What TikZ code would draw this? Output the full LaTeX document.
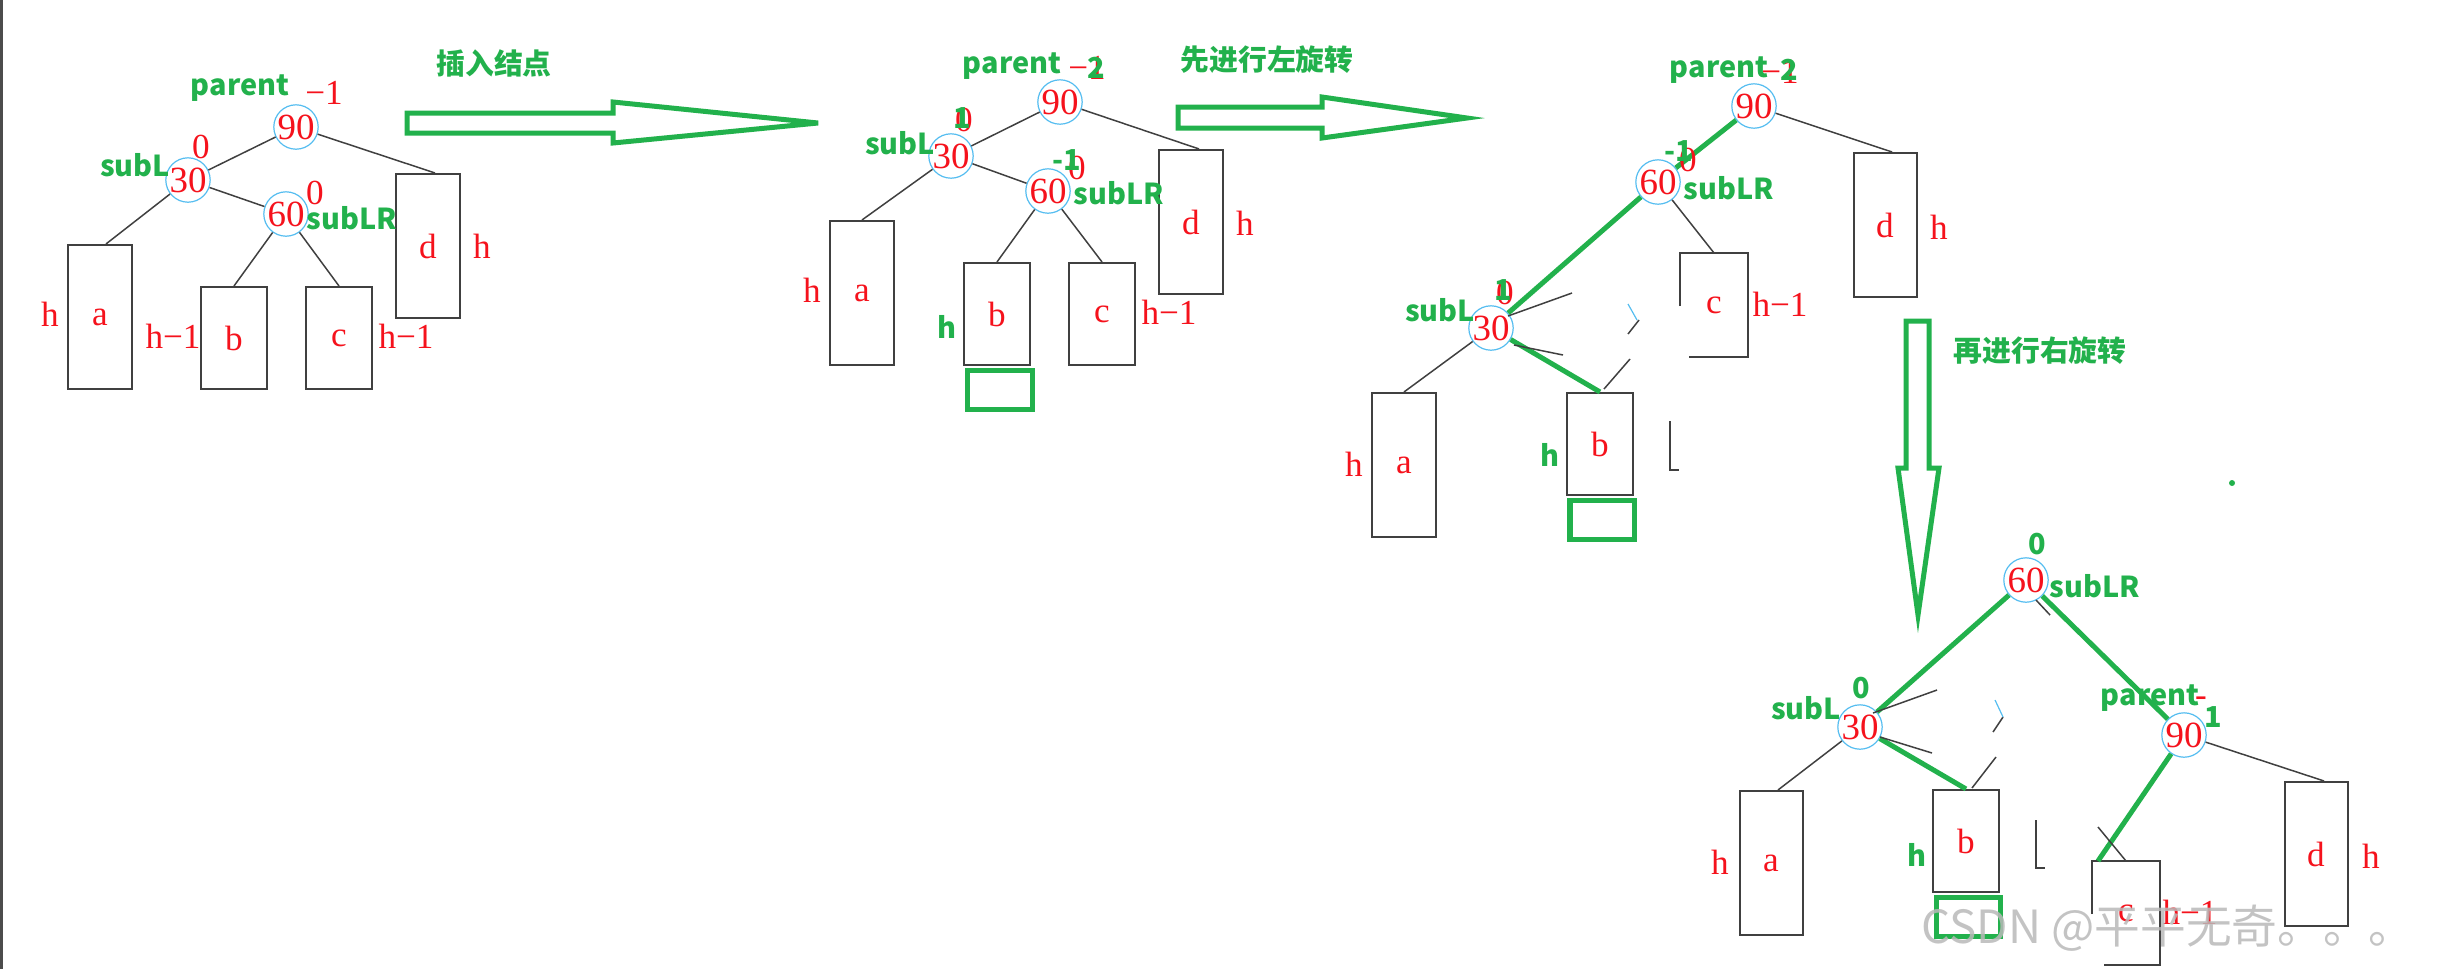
\documentclass[tikz,border=0pt]{standalone}
\usepackage{fontspec}
\setmainfont{Liberation Serif}
\newfontfamily\cnfont{Noto Sans CJK SC}
\definecolor{paintgreen}{HTML}{22B14C}
\definecolor{ringblue}{HTML}{55BDF0}
\definecolor{markred}{HTML}{F5121C}
\definecolor{boxgray}{HTML}{404040}
\tikzset{
	key/.style={circle, draw=ringblue, line width=0.012cm, minimum size=0.41cm, inner sep=0pt, text=markred, font=\fontsize{10.5}{11}\selectfont},
	tallbox/.style={draw=boxgray, line width=0.02cm, minimum width=0.63cm, minimum height=1.44cm, inner sep=0pt, text=markred, font=\fontsize{10}{11}\selectfont},
	shortbox/.style={tallbox, minimum width=0.66cm, minimum height=1.02cm},
	newbox/.style={draw=paintgreen, line width=0.05cm, minimum width=0.64cm, minimum height=0.39cm, inner sep=0pt},
	tag/.style={text=markred, inner sep=0pt, font=\fontsize{10}{11}\selectfont},
	gtag/.style={text=paintgreen, inner sep=0pt, font=\cnfont\bfseries\fontsize{8.2}{9}\selectfont},
	link/.style={draw=black!75, line width=0.015cm},
	hot/.style={draw=paintgreen, line width=0.05cm},
	hollow/.style={draw=paintgreen, line width=0.05cm, line join=miter},
	scrap/.style={draw=boxgray, line width=0.02cm},
}
\begin{document}
\begin{tikzpicture}[x=0.01cm, y=-0.01cm]
\useasboundingbox (0,0) rectangle (2442,969);
\draw[line width=0.03cm, black!70] (1.5,0) -- (1.5,969);

% tree 1: after the insert
\node[key] (p1) at (296,127) {90};
\node[key] (l1) at (188,180) {30};
\node[key] (lr1) at (286,214) {60};
\node[tallbox] (a1) at (100,317) {a};
\node[shortbox] (b1) at (234,338) {b};
\node[shortbox] (c1) at (339,338) {c};
\node[tallbox] (d1) at (428,246) {d};
\draw[link] (p1) -- (l1);
\draw[link] (p1) -- ([xshift=0.07cm]d1.north);
\draw[link] (l1) -- ([xshift=0.06cm]a1.north);
\draw[link] (l1) -- (lr1);
\draw[link] (lr1) -- (b1.north);
\draw[link] (lr1) -- (c1.north);
\node[gtag] (pn1) at (240,88) {parent};
\node[gtag] (sl1) at (135,165) {subL};
\node[gtag] (slr1) at (352,218) {subLR};
\node[tag] (bp1) at (324,93) {−1};
\node[tag] (bl1) at (201,147) {0};
\node[tag] (blr1) at (315,193) {0};
\node[tag] (ha1) at (50,314) {h};
\node[tag] (hb1) at (173,336) {h−1};
\node[tag] (hc1) at (406,336) {h−1};
\node[tag] (hd1) at (482,246) {h};

\node[gtag] (t1) at (494,63) {插入结点};
\draw[hollow] (407,113) -- (613,113) -- (613,102) -- (818,123) -- (613,143) -- (613,133) -- (407,133) -- cycle;

% tree 2: b got one level deeper
\node[key] (p2) at (1060,102) {90};
\node[key] (l2) at (951,156) {30};
\node[key] (lr2) at (1048,191) {60};
\node[tallbox] (a2) at (862,293) {a};
\node[shortbox] (b2) at (997,314) {b};
\node[shortbox] (c2) at (1102,314) {c};
\node[tallbox] (d2) at (1191,222) {d};
\node[newbox] (n2) at (1000,390) {};
\draw[link] (p2) -- (l2);
\draw[link] (p2) -- ([xshift=0.08cm]d2.north);
\draw[link] (l2) -- (a2.north);
\draw[link] (l2) -- (lr2);
\draw[link] (lr2) -- (b2.north);
\draw[link] (lr2) -- (c2.north);
\node[gtag] (pn2) at (1012,66) {parent};
\node[gtag] (sl2) at (900,143) {subL};
\node[gtag] (slr2) at (1119,193) {subLR};
\node[gtag] (hb2) at (947,327) {h};
\node[tag] (bp2) at (1087,68) {−1};
\node[gtag] (bp2n) at (1096,68) {2};
\node[tag] (bl2) at (964,120) {0};
\node[gtag] (bl2n) at (962,118) {1};
\node[tag] (blr2) at (1077,168) {0};
\node[gtag] (blr2n) at (1067,160) {-1};
\node[tag] (ha2) at (812,290) {h};
\node[tag] (hc2) at (1169,312) {h−1};
\node[tag] (hd2) at (1245,223) {h};

\node[gtag] (t2) at (1267,60) {先进行左旋转};
\draw[hollow] (1178,107) -- (1322,107) -- (1322,97) -- (1467,118) -- (1322,138) -- (1322,128) -- (1178,128) -- cycle;

% tree 3: left rotation at 30
\node[key] (p3) at (1754,106) {90};
\node[key] (lr3) at (1658,182) {60};
\node[key] (l3) at (1491,328) {30};
\node[tallbox] (a3) at (1404,465) {a};
\node[shortbox] (b3) at (1600,444) {b};
\node[shortbox, draw=none] (c3) at (1714,305) {c};
\node[tallbox] (d3) at (1885,225) {d};
\node[newbox] (n3) at (1602,520) {};
\draw[scrap] ([yshift=-0.53cm]c3.north west) -- (c3.north west) -- (c3.north east) -- (c3.south east) -- ([xshift=0.09cm]c3.south west);
\draw[link] (p3) -- ([xshift=0.07cm]d3.north);
\draw[link] (lr3) -- (c3.north);
\draw[link] (l3) -- (a3.north);
\draw[hot] (p3) -- (lr3);
\draw[hot] (lr3) -- (l3);
\draw[hot] (l3) -- (b3.north);
% leftovers of the old lines
\draw[link] (1508,316) -- (1572,293);
\draw[link] (1514,345) -- (1563,355);
\draw[link] (1639,320) -- (1628,334);
\draw[link] (1630,359) -- (1604,389);
\draw[draw=ringblue, line width=0.012cm] (1628,304) -- (1637,320);
\draw[scrap] (1670,421) -- (1670,470) -- (1679,470);
\node[gtag] (pn3) at (1719,70) {parent};
\node[gtag] (slr3) at (1729,188) {subLR};
\node[gtag] (sl3) at (1440,310) {subL};
\node[gtag] (hb3) at (1550,455) {h};
\node[tag] (bp3) at (1780,72) {−1};
\node[gtag] (bp3n) at (1789,70) {2};
\node[tag] (blr3) at (1688,160) {0};
\node[gtag] (blr3n) at (1679,151) {-1};
\node[tag] (bl3) at (1505,293) {0};
\node[gtag] (bl3n) at (1503,290) {1};
\node[tag] (hc3) at (1780,304) {h−1};
\node[tag] (hd3) at (1939,227) {h};
\node[tag] (ha3) at (1354,464) {h};

\draw[hollow] (1906,321) -- (1929,321) -- (1929,468) -- (1939,468) -- (1918,615) -- (1898,468) -- (1906,468) -- cycle;
\node[gtag] (t3) at (2040,351) {再进行右旋转};
\fill[paintgreen] (2232,483) circle (3);

% tree 4: right rotation at 90
\node[key] (lr4) at (2026,580) {60};
\node[key] (l4) at (1860,727) {30};
\node[key] (p4) at (2184,735) {90};
\node[tallbox] (a4) at (1771,863) {a};
\node[shortbox] (b4) at (1966,841) {b};
\node[shortbox, draw=none] (c4) at (2126,913) {c};
\node[tallbox] (d4) at (2316,854) {d};
\node[newbox] (n4) at (1968,917) {};
\draw[scrap] ([yshift=-0.53cm]c4.north west) -- (c4.north west) -- (c4.north east) -- (c4.south east) -- ([xshift=0.12cm]c4.south west);
\draw[link] (l4) -- ([xshift=0.07cm]a4.north);
\draw[link] (p4) -- ([xshift=0.08cm]d4.north);
\draw[hot] (lr4) -- (l4);
\draw[hot] (lr4) -- (p4);
\draw[hot] (l4) -- (b4.north);
\draw[hot] ([xshift=0.06cm]c4.north west) -- (p4);
% leftovers of the old lines
\draw[link] (1873,713) -- (1937,690);
\draw[link] (1880,737) -- (1932,753);
\draw[link] (2003,717) -- (1993,732);
\draw[link] (1996,757) -- (1972,788);
\draw[link] (2098,827) -- (2126,861);
\draw[link] (2036,600) -- (2050,615);
\draw[draw=ringblue, line width=0.012cm] (1995,700) -- (2003,717);
\draw[scrap] (2036,820) -- (2036,868) -- (2045,868);
\node[gtag] (blr4) at (2037,544) {0};
\node[gtag] (slr4) at (2095,586) {subLR};
\node[gtag] (bl4) at (1861,688) {0};
\node[gtag] (sl4) at (1806,708) {subL};
\node[gtag] (pn4) at (2150,698) {parent};
\node[tag] (bp4) at (2201,702) {-};
\node[gtag] (bp4n) at (2213,717) {1};
\node[gtag] (hb4) at (1917,855) {h};
\node[tag] (ha4) at (1720,862) {h};
\node[tag] (hc4) at (2190,912) {h−1};
\node[tag] (hd4) at (2371,856) {h};

\node[text=gray!55, opacity=0.85, inner sep=0pt, font=\cnfont\fontsize{13}{14}\selectfont] (wm) at (2168,928) {CSDN @平平无奇。。。};
\end{tikzpicture}
\end{document}
